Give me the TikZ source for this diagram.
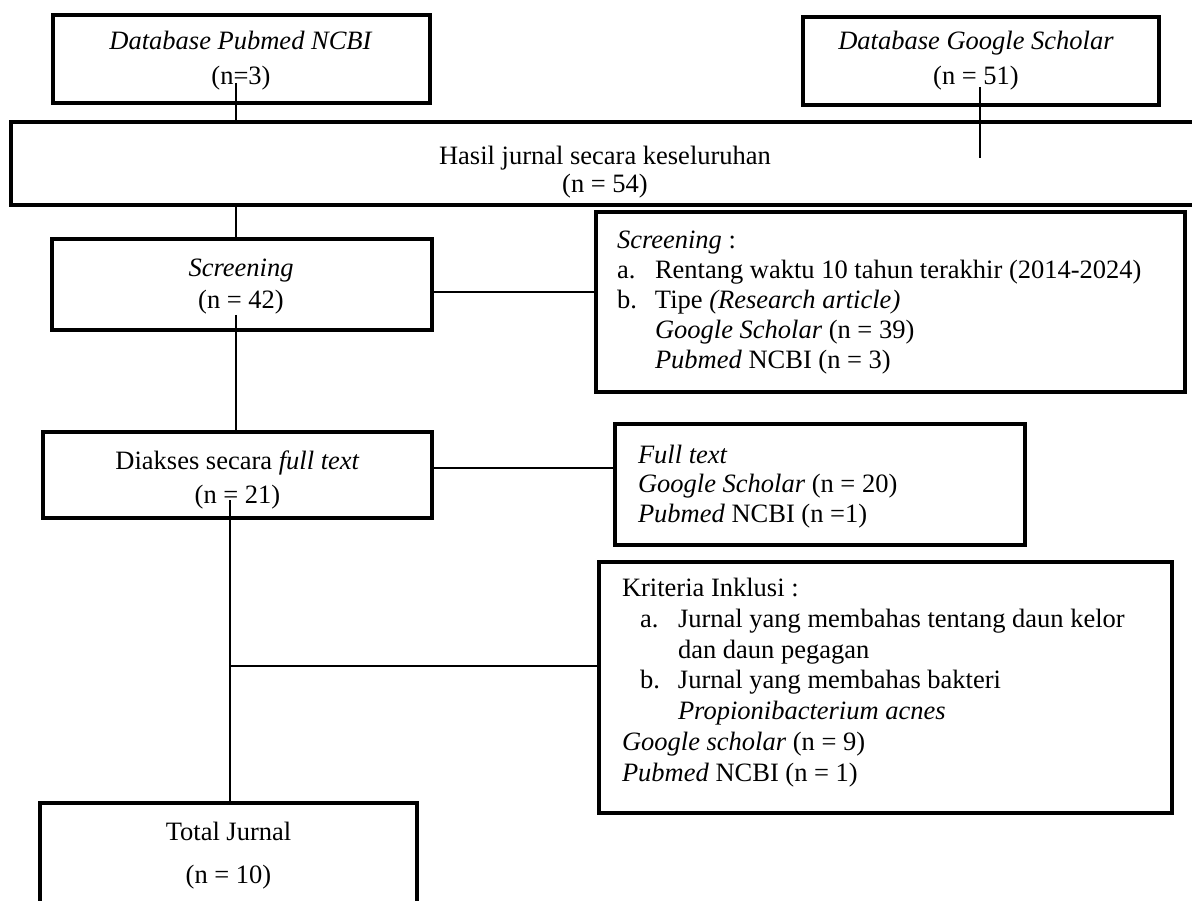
\documentclass[tikz,border=0pt]{standalone}
\usepackage{fontspec}
\setmainfont{Liberation Serif}
\begin{document}
\begin{tikzpicture}[x=1pt,y=-1pt,
  box/.style={draw=black,line width=4.5pt,rectangle,inner sep=0pt,outer sep=0pt},
  conn/.style={draw=black,line width=1.4pt},
  txt/.style={inner sep=0pt,outer sep=0pt,align=center}]
\useasboundingbox (0,0) rectangle (1192,901);
\clip (0,0) rectangle (1192,901);
% boxes
\node[box,minimum width=377pt,minimum height=88pt] (pub) at (241.5,59) {};
\node[box,minimum width=356pt,minimum height=88pt] (gs) at (981,61) {};
\node[box,minimum width=1194pt,minimum height=83pt] (hasil) at (608,163.5) {};
\node[box,minimum width=380pt,minimum height=91pt] (scr) at (242,284.5) {};
\node[box,minimum width=589pt,minimum height=180pt] (crit) at (890.5,302) {};
\node[box,minimum width=389pt,minimum height=86pt] (dia) at (237.5,475) {};
\node[box,minimum width=410pt,minimum height=121pt] (ft) at (820,484.5) {};
\node[box,minimum width=573pt,minimum height=251pt] (kri) at (885.5,687.5) {};
\node[box,minimum width=377pt,minimum height=112pt] (tot) at (228.5,859) {};
% texts
\node[txt,font=\fontsize{26.5}{35}\selectfont] (pubt) at (241,60.5) {\textit{Database Pubmed NCBI}\\(n=3)};
\node[txt,font=\fontsize{26.5}{35}\selectfont] (gst) at (976,60.5) {\textit{Database Google Scholar}\\(n = 51)};
\node[txt,font=\fontsize{26.5}{28}\selectfont] (hast) at (605,172) {Hasil jurnal secara keseluruhan\\(n = 54)};
\node[txt,font=\fontsize{26.5}{32}\selectfont] (scrt) at (241,287) {\textit{Screening}\\(n = 42)};
\node[txt,font=\fontsize{26.5}{34}\selectfont] (diat) at (237.5,480) {Diakses secara \textit{full text}\\(n = 21)};
\node[txt,font=\fontsize{26.5}{43}\selectfont] (tott) at (228.5,855.5) {Total Jurnal\\(n = 10)};
\node[txt,align=left,anchor=west,font=\fontsize{26.5}{30}\selectfont] (critt) at (617,303) {\textit{Screening} :\\
\makebox[38pt][l]{a.}Rentang waktu 10 tahun terakhir (2014-2024)\\
\makebox[38pt][l]{b.}Tipe \textit{(Research article)}\\
\hspace*{38pt}\textit{Google Scholar} (n = 39)\\
\hspace*{38pt}\textit{Pubmed} NCBI (n = 3)};
\node[txt,align=left,anchor=west,font=\fontsize{26.5}{29.5}\selectfont] (ftt) at (638,486.5) {\textit{Full text}\\
\textit{Google Scholar} (n = 20)\\
\textit{Pubmed} NCBI (n =1)};
\node[txt,align=left,anchor=west,font=\fontsize{26.5}{30.8}\selectfont] (krit) at (622,682.5) {Kriteria Inklusi :\\
\hspace*{18pt}\makebox[38pt][l]{a.}Jurnal yang membahas tentang daun kelor\\
\hspace*{56pt}dan daun pegagan\\
\hspace*{18pt}\makebox[38pt][l]{b.}Jurnal yang membahas bakteri\\
\hspace*{56pt}\textit{Propionibacterium acnes}\\
\textit{Google scholar} (n = 9)\\
\textit{Pubmed} NCBI (n = 1)};
% connectors
\coordinate (p1) at (236,83);
\draw[conn] (p1) -- (p1 |- hasil.north);
\coordinate (g1) at (980,87);
\coordinate (g2) at (980,158);
\draw[conn] (g1) -- (g2);
\draw[conn] (p1 |- hasil.south) -- (p1 |- scr.north);
\coordinate (s1) at (236,315);
\draw[conn] (s1) -- (s1 |- dia.north);
\coordinate (h1) at (432,292);
\draw[conn] (h1) -- (h1 -| crit.west);
\coordinate (h2) at (432,468);
\draw[conn] (h2) -- (h2 -| ft.west);
\coordinate (d1) at (230,500);
\draw[conn] (d1) -- (d1 |- tot.north);
\coordinate (h3) at (230,666);
\draw[conn] (h3) -- (h3 -| kri.west);
\end{tikzpicture}
\end{document}
